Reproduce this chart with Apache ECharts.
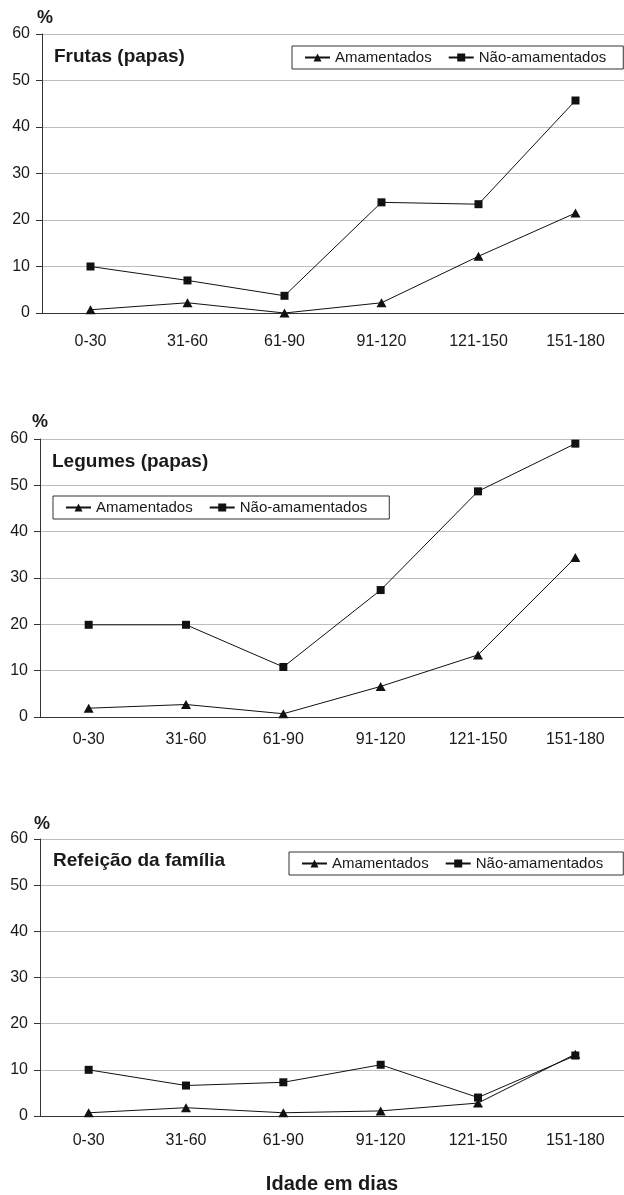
<!DOCTYPE html>
<html>
<head>
<meta charset="utf-8">
<script src="https://cdn.jsdelivr.net/npm/echarts@6/dist/echarts.min.js"></script>
<style>
  html, body { margin: 0; padding: 0; background: #fff; }
  #chart { width: 624px; height: 1195px; }
</style>
</head>
<body>
<div id="chart"></div>
<script>
// ---- data ----
const categories = ['0-30', '31-60', '61-90', '91-120', '121-150', '151-180'];
const yTicks = [0, 10, 20, 30, 40, 50, 60];
const seriesNames = ['Amamentados', 'Não-amamentados'];
const panelTitles = ['Frutas (papas)', 'Legumes (papas)', 'Refeição da família'];
const frutasAmam = [0.7, 2.2, 0, 2.2, 12.2, 21.5];
const frutasNao = [10, 7, 3.7, 23.8, 23.4, 45.7];
const legumesAmam = [1.9, 2.7, 0.7, 6.6, 13.4, 34.4];
const legumesNao = [19.9, 19.9, 10.8, 27.4, 48.7, 59.0];
const refeicaoAmam = [0.7, 1.8, 0.7, 1.1, 2.8, 13.4];
const refeicaoNao = [10, 6.6, 7.3, 11.1, 4.0, 13.1];
const xAxisTitle = 'Idade em dias';
const unitLabel = '%';

// ---- layout ----
const FONT = '"Liberation Sans", Arial, Helvetica, sans-serif';
const panels = [
  { grid: { left: 42, top: 34, width: 586, height: 279 }, labelMargin: 21,
    title: { x: 54, y: 57 }, unit: { x: 45, y: 18 }, legend: { left: 292, top: 46, padR: 17 },
    data: [frutasAmam, frutasNao] },
  { grid: { left: 40, top: 439, width: 586, height: 278 }, labelMargin: 15,
    title: { x: 52, y: 462 }, unit: { x: 40, y: 422 }, legend: { left: 53, top: 496, padR: 22 },
    data: [legumesAmam, legumesNao] },
  { grid: { left: 40, top: 839, width: 586, height: 278 }, labelMargin: 17,
    title: { x: 53, y: 861 }, unit: { x: 42, y: 824 }, legend: { left: 289, top: 852, padR: 20 },
    data: [refeicaoAmam, refeicaoNao] }
];

const symbols = [
  { symbol: 'triangle', symbolSize: [10, 9] },
  { symbol: 'rect', symbolSize: 8 }
];

const grids = [], xAxes = [], yAxes = [], series = [], legends = [], graphics = [];
panels.forEach((p, i) => {
  grids.push(Object.assign({}, p.grid));
  xAxes.push({
    type: 'category', gridIndex: i, data: categories, boundaryGap: true,
    axisLine: { lineStyle: { color: '#333', width: 1 } },
    axisTick: { show: false },
    axisLabel: { color: '#1a1a1a', fontSize: 16, fontFamily: FONT, margin: p.labelMargin },
    splitLine: { show: false },
    name: i === 2 ? xAxisTitle : '',
    nameLocation: 'middle', nameGap: 58,
    nameTextStyle: { color: '#1a1a1a', fontSize: 20, fontWeight: 'bold', fontFamily: FONT }
  });
  yAxes.push({
    type: 'value', gridIndex: i, min: 0, max: 60, interval: 10,
    axisLine: { show: true, lineStyle: { color: '#333', width: 1 } },
    axisTick: { show: true, inside: false, length: 6, lineStyle: { color: '#333' } },
    axisLabel: { color: '#1a1a1a', fontSize: 16, fontFamily: FONT, margin: 12,
      formatter: v => (yTicks.indexOf(v) >= 0 ? String(v) : '') },
    splitLine: { show: true, lineStyle: { color: '#bdbdbd', width: 1 } }
  });
  seriesNames.forEach((name, k) => {
    series.push({
      type: 'line', name: name, xAxisIndex: i, yAxisIndex: i,
      data: p.data[k],
      symbol: symbols[k].symbol, symbolSize: symbols[k].symbolSize,
      showAllSymbol: true,
      lineStyle: { color: '#111', width: 1 },
      itemStyle: { color: '#111' },
      emphasis: { disabled: true },
      animation: false
    });
  });
  legends.push({
    left: p.legend.left, top: p.legend.top, orient: 'horizontal',
    data: seriesNames,
    itemWidth: 25, itemHeight: 10, itemGap: 16,
    padding: [4, p.legend.padR, 4, 12],
    borderColor: '#333', borderWidth: 1,
    backgroundColor: '#fff',
    selectedMode: false,
    textStyle: { color: '#1a1a1a', fontSize: 15, fontFamily: FONT }
  });
  graphics.push({
    type: 'text', x: p.title.x, y: p.title.y,
    style: { text: panelTitles[i], fill: '#1a1a1a', font: 'bold 19px ' + FONT,
      textAlign: 'left', textVerticalAlign: 'middle' }
  });
  graphics.push({
    type: 'text', x: p.unit.x, y: p.unit.y,
    style: { text: unitLabel, fill: '#1a1a1a', font: 'bold 18px ' + FONT,
      textAlign: 'center', textVerticalAlign: 'middle' }
  });
});

const chart = echarts.init(document.getElementById('chart'), null, { renderer: 'canvas' });
chart.setOption({
  animation: false,
  backgroundColor: '#fff',
  grid: grids,
  xAxis: xAxes,
  yAxis: yAxes,
  legend: legends,
  series: series,
  graphic: graphics
});
</script>
</body>
</html>
